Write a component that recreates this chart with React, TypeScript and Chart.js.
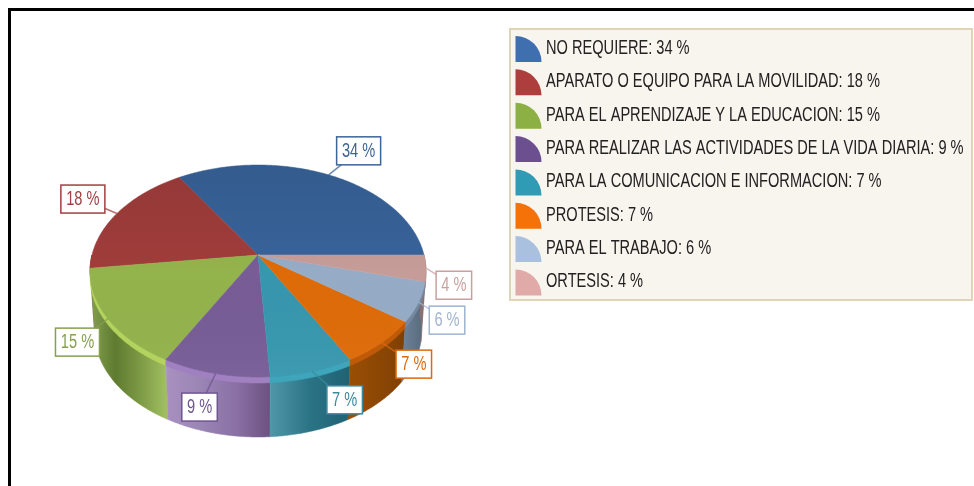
import React, { useEffect, useRef } from "react";
import { Chart, registerables } from "chart.js";

Chart.register(...registerables);

const categories = [
  "NO REQUIERE",
  "APARATO O EQUIPO PARA LA MOVILIDAD",
  "PARA EL APRENDIZAJE Y LA EDUCACION",
  "PARA REALIZAR LAS ACTIVIDADES DE LA VIDA DIARIA",
  "PARA LA COMUNICACION E INFORMACION",
  "PROTESIS",
  "PARA EL TRABAJO",
  "ORTESIS",
];
const percentages = [34, 18, 15, 9, 7, 7, 6, 4];

const legendColors = ["#3f6fae", "#ae3e3d", "#8cb043", "#6b4f8f", "#2f9bb5", "#f47207", "#a9c1de", "#e0aaa8"];
const faceColors = ["#38639a", "#a03d3b", "#93b34c", "#775c96", "#3797ae", "#de6b08", "#96acc6", "#c69c98"];
const labelColors = ["#3c6496", "#a04040", "#86a04e", "#6f5690", "#3a8a9e", "#dc6a10", "#9fb4d0", "#c9a0a0"];
const bevelColors = ["#3f6fae", "#ae3e3d", "#b4d25e", "#a080c0", "#3fa5bb", "#bf5a08", "#75889f", "#a08888"];
const wallStops = [
  ["#2c4a70", "#2c4a70"],
  ["#7a2e2e", "#7a2e2e"],
  ["#84a050", "#5f7b30", "#7d9a45", "#a0bf60"],
  ["#a891c0", "#9a85b5", "#8a70a5", "#6c5282"],
  ["#4f97a8", "#2a7385", "#1f6274"],
  ["#9a4e05", "#7f4003"],
  ["#6b7e96", "#566878"],
  ["#8a7070", "#8a7070"],
];
// label box centre relative to the leader anchor on the rim
const labelOffsets = [
  [30, -24], [-34, -14.5], [-30.5, 23.5], [-16, 33.5],
  [32.5, 28.5], [32, 21.5], [28.5, 18], [28, 17],
];

const FONT = '"Liberation Sans", sans-serif';
const SQUEEZE = 0.73;
const PERSPECTIVE = 0.151;
const TILT = 0.624;

function narrowText(ctx: CanvasRenderingContext2D, text: string, x: number, y: number) {
  ctx.fillText(text, x, y, ctx.measureText(text).width * SQUEEZE);
}

function project(arc: any, theta: number, scaleX = 1, drop = 0) {
  const u = Math.cos(theta);
  const v = Math.sin(theta);
  const d = 1 + PERSPECTIVE * v;
  return {
    x: arc.x + (arc.outerRadius * scaleX * u) / d,
    y: arc.y + drop - (arc.outerRadius * TILT * v) / d,
  };
}

function trace(ctx: CanvasRenderingContext2D, pts: { x: number; y: number }[]) {
  ctx.beginPath();
  pts.forEach((p, i) => (i ? ctx.lineTo(p.x, p.y) : ctx.moveTo(p.x, p.y)));
  ctx.closePath();
}

function sample(a0: number, a1: number) {
  const n = Math.max(2, Math.ceil((a1 - a0) / 0.01));
  const out: number[] = [];
  for (let i = 0; i <= n; i++) out.push(a0 + ((a1 - a0) * i) / n);
  return out;
}

const pie3d = {
  id: "pie3d",
  beforeDatasetsDraw(chart: any) {
    const ctx: CanvasRenderingContext2D = chart.ctx;
    const arcs = chart.getDatasetMeta(0).data;
    const TWO = Math.PI * 2;

    const drawBand = (drop0: number, drop1: number, sx1: number, fill: (i: number, a: number[]) => any) => {
      arcs.forEach((arc: any, i: number) => {
        const a0 = Math.max(arc.startAngle, Math.PI);
        const a1 = Math.min(arc.endAngle, TWO);
        if (a1 <= a0) return;
        const angles = sample(a0, a1);
        const upper = angles.map((t) => project(arc, t, 1, drop0));
        const lower = angles.map((t) => project(arc, t, sx1, drop1)).reverse();
        trace(ctx, upper.concat(lower));
        const xs = upper.map((p) => p.x);
        ctx.fillStyle = fill(i, [Math.min(...xs), Math.max(...xs)]);
        ctx.strokeStyle = ctx.fillStyle;
        ctx.lineWidth = 0.5;
        ctx.fill();
        ctx.stroke();
      });
    };
    drawBand(0, 60, 0.975, (i, [x0, x1]) => {
      const g = ctx.createLinearGradient(x0, 0, x1, 0);
      wallStops[i].forEach((c, k, all) => g.addColorStop(k / (all.length - 1), c));
      return g;
    });
    drawBand(0, 6, 1, (i) => bevelColors[i]);

    // top face
    const shade = ctx.createLinearGradient(0, 165, 0, 380);
    shade.addColorStop(0, "rgba(0,0,0,0.08)");
    shade.addColorStop(0.5, "rgba(0,0,0,0.0)");
    shade.addColorStop(1, "rgba(255,255,255,0.04)");
    arcs.forEach((arc: any) => {
      const rim = sample(arc.startAngle, arc.endAngle).map((t) => project(arc, t));
      trace(ctx, [{ x: arc.x, y: arc.y }, ...rim]);
      ctx.fillStyle = arc.options.backgroundColor;
      ctx.strokeStyle = arc.options.backgroundColor;
      ctx.lineWidth = 0.5;
      ctx.fill();
      ctx.stroke();
      ctx.fillStyle = shade;
      ctx.fill();
    });

    // value labels
    ctx.textAlign = "center";
    ctx.textBaseline = "middle";
    ctx.font = `20px ${FONT}`;
    arcs.forEach((arc: any, i: number) => {
      const anchor = project(arc, (arc.startAngle + arc.endAngle) / 2);
      const text = `${percentages[i]} %`;
      const w = percentages[i] >= 10 ? 44 : 35.5;
      const h = 28;
      const cx = anchor.x + labelOffsets[i][0];
      const cy = anchor.y + labelOffsets[i][1];
      ctx.strokeStyle = labelColors[i];
      ctx.globalAlpha = 0.75;
      ctx.lineWidth = 1.5;
      ctx.beginPath();
      ctx.moveTo(anchor.x, anchor.y);
      ctx.lineTo(cx, cy);
      ctx.stroke();
      ctx.globalAlpha = 1;
      ctx.fillStyle = "#ffffff";
      ctx.fillRect(cx - w / 2, cy - h / 2, w, h);
      ctx.strokeRect(cx - w / 2, cy - h / 2, w, h);
      ctx.fillStyle = labelColors[i];
      narrowText(ctx, text, cx, cy + 0.5);
    });
    return false;
  },
};

const frame = {
  id: "frame",
  afterDraw(chart: any) {
    const ctx: CanvasRenderingContext2D = chart.ctx;
    ctx.save();
    ctx.fillStyle = "#000000";
    ctx.fillRect(8, 8, 966, 3);
    ctx.fillRect(8, 8, 3, 478);

    ctx.fillStyle = "#f8f4ee";
    ctx.strokeStyle = "#e0d4b8";
    ctx.lineWidth = 2;
    ctx.fillRect(510, 29, 462, 271);
    ctx.strokeRect(510, 29, 462, 271);
    ctx.textAlign = "left";
    ctx.textBaseline = "middle";
    ctx.font = `20px ${FONT}`;
    categories.forEach((name, i) => {
      const cy = 48.5 + i * 33.35;
      const bottom = cy + 13.5;
      ctx.fillStyle = legendColors[i];
      ctx.beginPath();
      ctx.moveTo(515.5, bottom);
      ctx.arc(515.5, bottom, 26, -Math.PI / 2, 0);
      ctx.closePath();
      ctx.fill();
      ctx.fillStyle = "#222222";
      narrowText(ctx, `${name}: ${percentages[i]} %`, 546, cy);
    });
    ctx.restore();
  },
};

export default function App() {
  const ref = useRef<HTMLCanvasElement>(null);
  useEffect(() => {
    document.body.style.margin = "0";
    document.body.style.background = "#ffffff";
    const chart = new Chart(ref.current!, {
      type: "pie",
      data: {
        labels: categories,
        datasets: [{ data: percentages, backgroundColor: faceColors, borderWidth: 0 }],
      },
      options: {
        responsive: false,
        animation: false,
        rotation: 90,
        layout: { padding: { left: 92, right: 550, top: 89, bottom: 65 } },
        plugins: { legend: { display: false }, tooltip: { enabled: false } },
      },
      plugins: [pie3d, frame],
    } as any);
    return () => chart.destroy();
  }, []);
  return <canvas ref={ref} width={974} height={486} style={{ display: "block" }} />;
}
